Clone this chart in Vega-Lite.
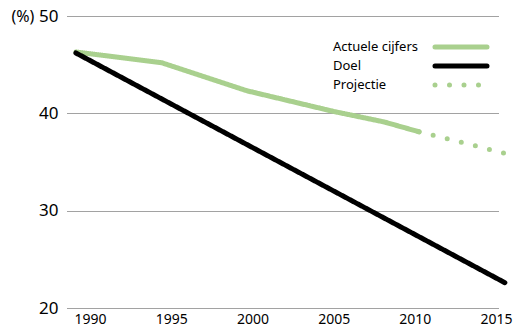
{
  "$schema": "https://vega.github.io/schema/vega-lite/v6.json",
  "width": 431,
  "height": 292,
  "autosize": "none",
  "padding": {"left": 67, "top": 16, "right": 15, "bottom": 19},
  "background": "white",
  "config": {
    "view": {"stroke": null},
    "font": "Noto Sans",
    "legend": {
      "title": null,
      "orient": "none",
      "legendX": 385,
      "legendY": 22,
      "padding": 0,
      "symbolType": "M-4,0H4",
      "symbolSize": 169,
      "symbolStrokeWidth": 5,
      "labelFontSize": 13,
      "labelColor": "#000",
      "labelAlign": "left",
      "labelOffset": -137,
      "rowPadding": -7
    }
  },
  "data": {
    "values": [
      {"year": 1990, "value": 46.3, "series": "Actuele cijfers"},
      {"year": 1995, "value": 45.2, "series": "Actuele cijfers"},
      {"year": 2000, "value": 42.3, "series": "Actuele cijfers"},
      {"year": 2005, "value": 40.2, "series": "Actuele cijfers"},
      {"year": 2008, "value": 39.1, "series": "Actuele cijfers"},
      {"year": 2010, "value": 38.1, "series": "Actuele cijfers"},
      {"year": 1990, "value": 46.2, "series": "Doel"},
      {"year": 2015, "value": 22.6, "series": "Doel"},
      {"year": 2010, "value": 38.1, "series": "Projectie"},
      {"year": 2015, "value": 35.9, "series": "Projectie"}
    ]
  },
  "layer": [
    {
      "mark": {"type": "line", "strokeWidth": 5, "strokeCap": "round", "strokeJoin": "round", "clip": false},
      "encoding": {
        "x": {"field": "year", "type": "quantitative", "scale": {"domain": [1989.48, 2014.6], "nice": false, "zero": false}, "axis": null},
        "y": {
          "field": "value", "type": "quantitative",
          "scale": {"domain": [20, 50], "nice": false, "zero": false},
          "axis": {
            "values": [20, 30, 40, 50],
            "title": "(%)",
            "titleAngle": 0,
            "titleAlign": "left",
            "titleBaseline": "middle",
            "titleX": -56,
            "titleY": 0,
            "titleFontSize": 16,
            "titleFontWeight": "normal",
            "titleColor": "#000",
            "domain": false,
            "ticks": false,
            "labelFontSize": 17,
            "labelColor": "#000",
            "labelPadding": 9,
            "grid": true,
            "gridColor": "#444",
            "gridDash": [1, 1],
            "gridWidth": 1
          }
        },
        "color": {
          "field": "series", "type": "nominal",
          "scale": {"domain": ["Actuele cijfers", "Doel", "Projectie"], "range": ["#a9d08e", "#000000", "#a9d08e"]},
          "legend": {
            "encoding": {"symbols": {"strokeCap": {"value": "round"}}}
          }
        },
        "strokeDash": {
          "field": "series", "type": "nominal",
          "scale": {"domain": ["Actuele cijfers", "Doel", "Projectie"], "range": [[1, 0], [1, 0], [0, 14.5]]},
          "legend": {
            "encoding": {"symbols": {"strokeCap": {"value": "round"}}}
          }
        }
      }
    },
    {
      "mark": {"type": "point", "opacity": 0},
      "encoding": {
        "x": {
          "field": "year", "type": "quantitative",
          "scale": {"domain": [1988.58, 2015.12], "nice": false, "zero": false},
          "axis": {
            "orient": "bottom",
            "values": [1990, 1995, 2000, 2005, 2010, 2015],
            "format": "d",
            "title": null,
            "domain": false,
            "ticks": false,
            "grid": false,
            "labelFontSize": 14,
            "labelColor": "#000",
            "labelPadding": 4,
            "labelFlush": false
          }
        },
        "y": {"field": "value", "type": "quantitative"}
      }
    }
  ],
  "resolve": {"scale": {"x": "independent"}}
}
